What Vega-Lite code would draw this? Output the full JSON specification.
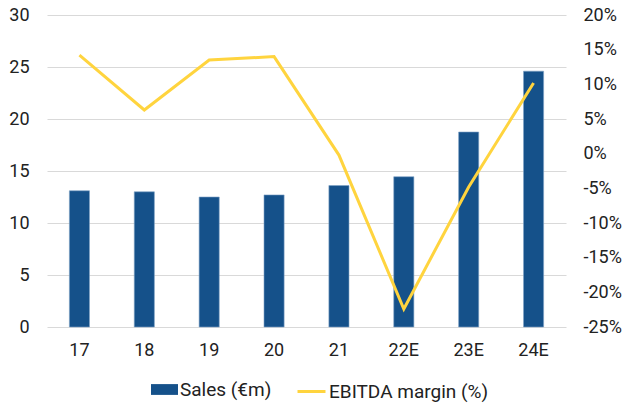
{
  "$schema": "https://vega.github.io/schema/vega-lite/v6.json",
  "width": 519,
  "height": 312,
  "autosize": {"type": "none"},
  "padding": {"left": 47, "top": 15, "right": 59, "bottom": 77},
  "background": "white",
  "config": {
    "view": {"stroke": null},
    "font": "Roboto",
    "axis": {"labelFont": "Roboto", "labelFontSize": 18, "labelColor": "#222222", "domain": false, "ticks": false, "title": null},
    "legend": {"labelFont": "Roboto", "labelFontSize": 19, "labelColor": "#222222"}
  },
  "data": {
    "values": [
      {"year": "17", "sales": 13.1, "margin": 14.2},
      {"year": "18", "sales": 13.0, "margin": 6.3},
      {"year": "19", "sales": 12.5, "margin": 13.5},
      {"year": "20", "sales": 12.7, "margin": 14.0},
      {"year": "21", "sales": 13.6, "margin": -0.2},
      {"year": "22E", "sales": 14.45, "margin": -22.4},
      {"year": "23E", "sales": 18.75, "margin": -4.8},
      {"year": "24E", "sales": 24.6, "margin": 10.2}
    ]
  },
  "encoding": {
    "x": {
      "field": "year",
      "type": "ordinal",
      "sort": null,
      "scale": {"paddingInner": 0.69, "paddingOuter": 0.345},
      "axis": {"labelAngle": 0, "labelPadding": 14, "grid": false}
    }
  },
  "layer": [
    {
      "mark": {"type": "bar", "stroke": "#7fa2c6", "strokeWidth": 0.6},
      "encoding": {
        "y": {
          "field": "sales",
          "type": "quantitative",
          "scale": {"domain": [0, 30], "nice": false},
          "axis": {"values": [0, 5, 10, 15, 20, 25, 30], "grid": true, "gridColor": "#d9d9d9", "gridWidth": 1, "labelPadding": 18}
        },
        "fill": {
          "datum": "Sales (€m)",
          "scale": {"domain": ["Sales (€m)"], "range": ["#15518a"]},
          "legend": {
            "orient": "none",
            "legendX": 104,
            "legendY": 361,
            "title": null,
            "symbolType": "M-1,-0.4H1V0.4H-1Z",
            "symbolSize": 729,
            "symbolStrokeWidth": 0,
            "labelOffset": 2
          }
        }
      }
    },
    {
      "mark": {"type": "line", "strokeWidth": 3, "strokeJoin": "miter"},
      "encoding": {
        "y": {
          "field": "margin",
          "type": "quantitative",
          "scale": {"domain": [-25, 20], "nice": false},
          "axis": {"orient": "right", "values": [-25, -20, -15, -10, -5, 0, 5, 10, 15, 20], "labelExpr": "datum.value + '%'", "grid": false, "labelPadding": 17}
        },
        "stroke": {
          "datum": "EBITDA margin (%)",
          "scale": {"domain": ["EBITDA margin (%)"], "range": ["#ffd43e"]},
          "legend": {
            "orient": "none",
            "legendX": 249,
            "legendY": 361,
            "title": null,
            "symbolType": "stroke",
            "symbolSize": 784,
            "symbolStrokeWidth": 3,
            "labelOffset": 2
          }
        }
      }
    }
  ],
  "resolve": {"scale": {"y": "independent"}}
}
